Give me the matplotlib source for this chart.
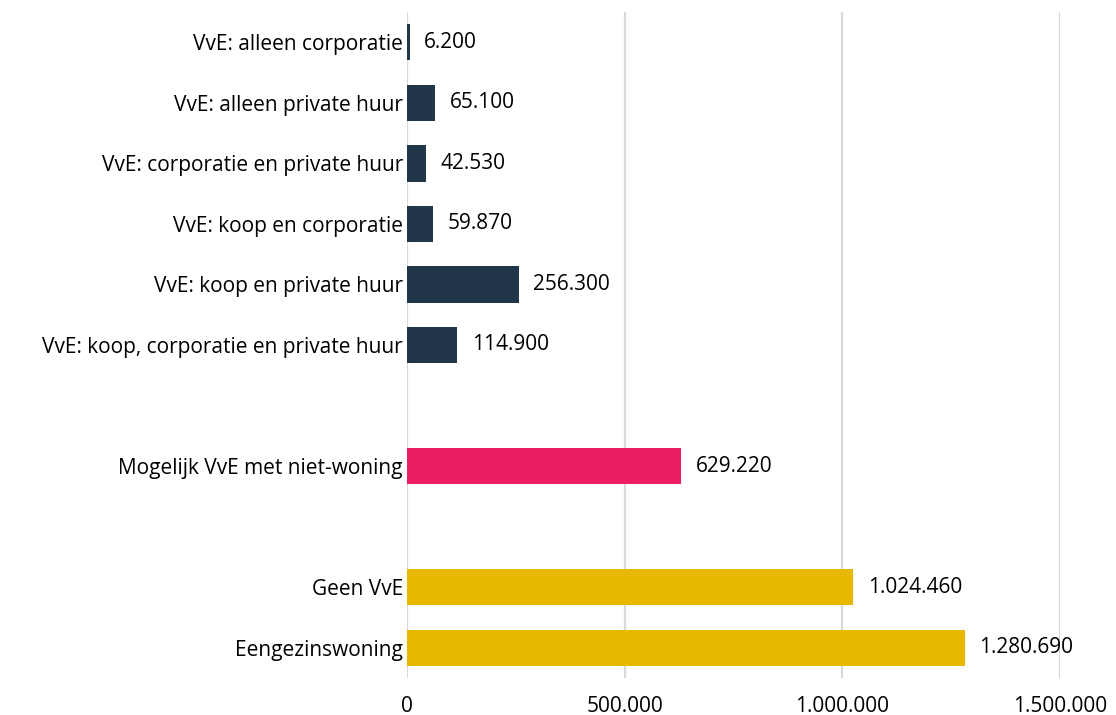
import matplotlib
matplotlib.use("Agg")
import matplotlib.pyplot as plt

categories = [
    "VvE: alleen corporatie",
    "VvE: alleen private huur",
    "VvE: corporatie en private huur",
    "VvE: koop en corporatie",
    "VvE: koop en private huur",
    "VvE: koop, corporatie en private huur",
    "",
    "Mogelijk VvE met niet-woning",
    "",
    "Geen VvE",
    "Eengezinswoning",
]
values = [6200, 65100, 42530, 59870, 256300, 114900, None, 629220, None, 1024460, 1280690]
groups = ["vve", "vve", "vve", "vve", "vve", "vve", None, "mogelijk", None, "geen", "geen"]
group_colors = {"vve": "#213648", "mogelijk": "#EB1E63", "geen": "#E8B700"}
xticks = [0, 500000, 1000000, 1500000]
xtick_labels = ["0", "500.000", "1.000.000", "1.500.000"]

plt.rcParams['font.family'] = ['Open Sans', 'DejaVu Sans']
FS = 15

fig = plt.figure(figsize=(11.16, 7.15), dpi=100)
ax = fig.add_axes([407/1116, 1 - 678/715, (1060-407)/1116, (678-12)/715])

for i, (v, g) in enumerate(zip(values, groups)):
    if v is None:
        continue
    ax.barh(i, v, height=0.6, color=group_colors[g], zorder=3)
    ax.annotate(f"{v:,}".replace(",", "."), xy=(v, i), xytext=(10.5, 0),
                textcoords="offset points", va="center", ha="left",
                fontsize=FS, color="#000000")

ax.set_xlim(0, 1500000)
ax.set_ylim(10.5, -0.5)
ax.set_yticks(range(len(categories)))
ax.set_yticklabels(categories, fontsize=FS)
ax.set_xticks(xticks)
ax.set_xticklabels(xtick_labels, fontsize=FS)
ax.tick_params(axis="both", length=0)
ax.tick_params(axis="y", pad=3)
ax.tick_params(axis="x", pad=13)
ax.grid(axis="x", color="#D9D9D9", linewidth=1.6, zorder=0)
for s in ax.spines.values():
    s.set_visible(False)

fig.savefig("out.png", dpi=100)
